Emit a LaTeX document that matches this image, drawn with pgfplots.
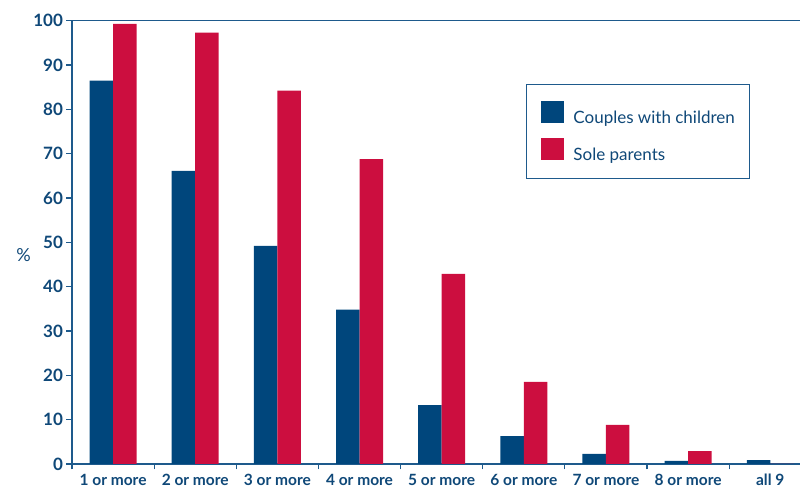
\documentclass[border=0pt]{standalone}
\usepackage{fontspec}
\setmainfont{Lato}
\usepackage{pgfplots}
\pgfplotsset{compat=1.18}

\definecolor{barblue}{HTML}{00467C}
\definecolor{barred}{HTML}{CC0E3F}
\definecolor{txtblue}{HTML}{0F4878}
\definecolor{lineblue}{HTML}{1E5A8C}

\begin{document}
\begin{tikzpicture}
\begin{axis}[
  scale only axis,
  width=728pt, height=443.3pt,
  xmin=-0.5, xmax=8.362,
  ymin=0, ymax=100,
  axis lines*=left,
  axis line style={lineblue, line width=1.2pt},
  tick align=outside,
  major tick length=5.5pt,
  tick style={lineblue, line width=1.2pt},
  ytick={0,10,...,100},
  yticklabel style={font=\fontsize{17}{20}\selectfont\bfseries},
  xtick={-0.5,0.5,...,8.5},
  xticklabels={},
  extra x ticks={0,1,...,8},
  extra x tick labels={1 or more,2 or more,3 or more,4 or more,5 or more,6 or more,7 or more,8 or more,all 9},
  extra x tick style={major tick length=0pt},
  xticklabel style={yshift=-6.5pt, font=\fontsize{15.5}{18}\selectfont\bfseries},
  ticklabel style={text=txtblue},
  /pgf/number format/assume math mode=true,
  ylabel={\%},
  ylabel style={rotate=-90, at={(axis description cs:-0.0666,0.471)}, anchor=center,
    font=\fontsize{18}{20}\selectfont, text=txtblue},
  ybar=0pt, bar width=23.5pt,
  legend style={at={(axis description cs:0.6236,0.857)}, anchor=north west,
    draw=lineblue, line width=0.9pt, inner xsep=15pt, inner ysep=16.5pt,
    font=\fontsize{17}{20}\selectfont, text=txtblue,
    nodes={inner sep=0pt}, row sep=12.5pt},
  legend cell align=left,
  legend image code/.code={\fill[#1] (0pt,-5pt) rectangle (23pt,17pt); \path (32pt,0pt);},
]
\addplot[fill=barblue, draw=none] coordinates {
  (0,86.5) (1,66.1) (2,49.2) (3,34.8) (4,13.3) (5,6.3) (6,2.3) (7,0.7) (8,0.9)
};
\addplot[fill=barred, draw=none] coordinates {
  (0,99.3) (1,97.3) (2,84.2) (3,68.8) (4,42.9) (5,18.5) (6,8.8) (7,2.9) (8,0)
};
\legend{Couples with children, Sole parents}
\draw[lineblue, line width=1.5pt] (rel axis cs:0,1) -- (rel axis cs:1,1);
\end{axis}
\pgfresetboundingbox
\path (-72pt,-25pt) rectangle (728pt,464pt);
\end{tikzpicture}
\end{document}
